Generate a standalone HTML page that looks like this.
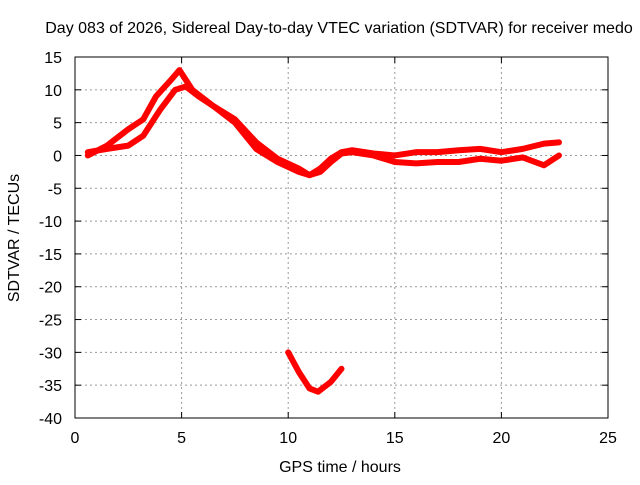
<!DOCTYPE html>
<html><head><meta charset="utf-8"><style>
body{margin:0;background:#fff}
svg text{font-family:"Liberation Sans",sans-serif;font-size:16px;fill:#000}
</style></head><body>
<svg width="640" height="480" id="c">
<text x="339" y="33" text-anchor="middle">Day 083 of 2026, Sidereal Day-to-day VTEC variation (SDTVAR) for receiver medo</text>
<text x="340" y="472" text-anchor="middle">GPS time / hours</text>
<text transform="translate(19,238) rotate(-90)" text-anchor="middle">SDTVAR / TECUs</text>
<g id="grid"></g><g id="axes"></g><g id="marks"></g>
<rect x="75" y="57" width="533" height="361" fill="none" stroke="#000" stroke-width="1"/>
</svg>
<script>
const xTicks=[0,5,10,15,20,25];
const yTicks=[15,10,5,0,-5,-10,-15,-20,-25,-30,-35,-40];
const upperX=[0.6,1.5,2.5,3.2,3.8,4.5,4.9,5.5,6.5,7.5,8.5,9.5,10.5,11,11.5,12,12.5,13,14,15,16,17,18,19,20,21,22,22.7];
const upperY=[0,1.5,4,5.5,9,11.5,13,10,7.5,5,1,-1,-2.5,-3,-2,-0.5,0.5,0.8,0.3,0,0.5,0.5,0.8,1,0.5,1,1.8,2];
const lowerX=[0.6,1.5,2.5,3.2,4,4.7,5.2,5.8,6.5,7.5,8.5,9.5,10.5,11,11.5,12,12.5,13,14,15,16,17,18,19,20,21,22,22.7];
const lowerY=[0.5,1,1.5,3,7,10,10.5,9,7.5,5.5,2,-0.5,-2,-3,-2.5,-1,0.3,0.5,0,-1,-1.2,-1,-1,-0.5,-0.8,-0.3,-1.5,0];
const dipX=[10,10.5,11,11.4,12,12.5];
const dipY=[-30,-33,-35.5,-36,-34.5,-32.5];
const NS='http://www.w3.org/2000/svg';
const X=h=>75+h*533/25, Y=v=>57+(15-v)*361/55;
const g=document.getElementById('grid'),a=document.getElementById('axes'),m=document.getElementById('marks');
function mk(t,at,p){const e=document.createElementNS(NS,t);for(const k in at)e.setAttribute(k,at[k]);p.appendChild(e);return e;}
xTicks.forEach(t=>{
 if(t>0&&t<25){const l=mk('line',{x1:X(t),x2:X(t),y1:57,y2:418,stroke:'#999','stroke-dasharray':'2,3'},g);
 
 }
 const tx=mk('text',{x:X(t),y:443,'text-anchor':'middle'},a);tx.textContent=t;
 
 
 mk('line',{x1:X(t),x2:X(t),y1:418,y2:412,stroke:'#000'},a);mk('line',{x1:X(t),x2:X(t),y1:57,y2:63,stroke:'#000'},a);
});
yTicks.forEach(t=>{
 if(t<15&&t>-40){const l=mk('line',{x1:75,x2:608,y1:Y(t),y2:Y(t),stroke:'#999','stroke-dasharray':'2,3'},g);
 
 }
 const tx=mk('text',{x:62,y:Y(t)+6,'text-anchor':'end'},a);tx.textContent=t;
 
 
 mk('line',{x1:75,x2:81,y1:Y(t),y2:Y(t),stroke:'#000'},a);mk('line',{x1:608,x2:602,y1:Y(t),y2:Y(t),stroke:'#000'},a);
});
function series(xs,ys,name){
 const p=mk('polyline',{points:xs.map((x,i)=>X(x)+','+Y(ys[i])).join(' '),fill:'none',stroke:'#f00','stroke-width':6,'stroke-linejoin':'round','stroke-linecap':'round'},m);
 
 
}
series(upperX,upperY,'sdtvar-upper-branch');
series(lowerX,lowerY,'sdtvar-lower-branch');
series(dipX,dipY,'sdtvar-dip');
</script>
</body></html>
